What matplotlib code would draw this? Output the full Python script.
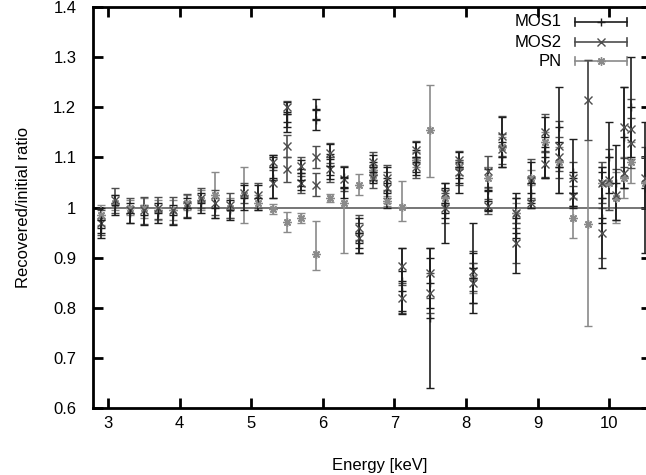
"""
plot.py: recovered/initial ratio versus energy for the three EPIC cameras.
"""

import matplotlib
matplotlib.use("Agg")
import matplotlib.pyplot as plt
from matplotlib.ticker import FormatStrFormatter

plt.rcParams['font.family'] = ['Liberation Sans', 'DejaVu Sans']

# MOS1 points: energy (keV), ratio, symmetric error
mos1_e = [2.9, 2.9, 3.1, 3.3, 3.5, 3.7, 3.9, 4.1, 4.3, 4.5, 4.7, 4.9, 5.1,
          5.3, 5.3, 5.5, 5.5, 5.7, 5.7, 5.9, 5.9, 6.1, 6.1, 6.3, 6.3,
          6.5, 6.5, 6.7, 6.7, 6.9, 6.9, 7.1, 7.1, 7.3, 7.3, 7.5, 7.5,
          7.7, 7.7, 7.9, 7.9, 8.1, 8.1, 8.3, 8.3, 8.5, 8.5, 8.7, 8.7,
          8.9, 8.9, 9.1, 9.1, 9.3, 9.3, 9.5, 9.5, 9.9, 9.9,
          10.0, 10.1, 10.2, 10.3, 10.5]
mos1_v = [0.96, 0.975, 1.005, 0.99, 0.985, 0.99, 0.985, 1.0, 1.01, 1.0, 0.995, 1.02, 1.02,
          1.08, 1.06, 1.186, 1.17, 1.069, 1.056, 1.196, 1.174, 1.096, 1.082, 1.061, 1.04,
          0.95, 0.93, 1.08, 1.07, 1.05, 1.03, 0.853, 0.833, 1.10, 1.09, 0.78, 0.85,
          0.99, 1.01, 1.08, 1.06, 0.88, 0.86, 1.036, 1.013, 1.13, 1.10, 0.95, 0.98,
          1.05, 1.03, 1.12, 1.10, 1.16, 1.08, 1.07, 1.03, 0.98, 1.02,
          1.10, 1.05, 1.14, 1.20, 1.04]
mos1_err = [0.02, 0.025, 0.02, 0.02, 0.02, 0.02, 0.02, 0.02, 0.02, 0.02, 0.02, 0.025, 0.025,
            0.025, 0.04, 0.025, 0.02, 0.025, 0.02, 0.02, 0.02, 0.03, 0.025, 0.02, 0.02,
            0.03, 0.02, 0.025, 0.02, 0.03, 0.03, 0.066, 0.04, 0.03, 0.025, 0.14, 0.05,
            0.06, 0.03, 0.03, 0.03, 0.09, 0.05, 0.04, 0.02, 0.05, 0.02, 0.08, 0.04,
            0.04, 0.03, 0.06, 0.04, 0.08, 0.05, 0.066, 0.03, 0.10, 0.05,
            0.07, 0.075, 0.10, 0.10, 0.13]

# MOS2 points
mos2_e = [2.9, 3.1, 3.3, 3.5, 3.7, 3.9, 4.1, 4.3, 4.5, 4.7, 4.9, 5.1,
          5.3, 5.3, 5.5, 5.5, 5.5, 5.7, 5.7, 5.9, 5.9, 6.1, 6.1, 6.3,
          6.5, 6.5, 6.7, 6.7, 6.9, 6.9, 7.1, 7.1, 7.3, 7.3, 7.5, 7.5,
          7.7, 7.7, 7.9, 7.9, 8.1, 8.1, 8.3, 8.3, 8.5, 8.5, 8.7, 8.7,
          8.9, 8.9, 9.1, 9.1, 9.3, 9.3, 9.5, 9.5, 9.7, 9.9, 9.9,
          10.0, 10.1, 10.2, 10.2, 10.3, 10.3, 10.5]
mos2_v = [0.97, 1.015, 0.995, 0.995, 1.0, 0.995, 1.005, 1.02, 1.01, 1.005, 1.03, 1.025,
          1.05, 1.09, 1.20, 1.122, 1.076, 1.082, 1.049, 1.10, 1.046, 1.109, 1.076, 1.058,
          0.96, 0.94, 1.09, 1.06, 1.06, 1.04, 0.883, 0.82, 1.115, 1.08, 0.87, 0.83,
          1.03, 1.0, 1.095, 1.07, 0.873, 0.85, 1.072, 1.003, 1.143, 1.116, 0.99, 0.93,
          1.056, 1.009, 1.15, 1.086, 1.122, 1.10, 1.06, 1.023, 1.214, 0.95, 1.05,
          1.056, 1.026, 1.16, 1.069, 1.156, 1.129, 1.06]
mos2_err = [0.025, 0.025, 0.025, 0.027, 0.022, 0.027, 0.023, 0.02, 0.025, 0.025, 0.02, 0.025,
            0.03, 0.015, 0.013, 0.022, 0.024, 0.018, 0.02, 0.022, 0.023, 0.02, 0.025, 0.024,
            0.025, 0.03, 0.02, 0.02, 0.024, 0.03, 0.037, 0.03, 0.017, 0.02, 0.05, 0.04,
            0.02, 0.03, 0.018, 0.025, 0.04, 0.04, 0.03, 0.015, 0.04, 0.03, 0.03, 0.04,
            0.04, 0.01, 0.037, 0.025, 0.05, 0.04, 0.03, 0.02, 0.08, 0.05, 0.04,
            0.06, 0.05, 0.08, 0.03, 0.06, 0.05, 0.06]

# PN points (asymmetric errors)
pn_e = [2.9, 3.1, 3.3, 3.5, 3.7, 3.9, 4.1, 4.3, 4.5, 4.7, 4.9, 5.1,
        5.3, 5.5, 5.7, 5.9, 6.1, 6.3, 6.5, 6.7, 6.7, 6.9, 7.1, 7.3, 7.5,
        7.7, 7.9, 8.1, 8.3, 8.5, 8.7, 8.9, 9.1, 9.3, 9.5, 9.7, 9.9,
        10.0, 10.1, 10.2, 10.3, 10.5]
pn_v = [0.985, 1.01, 1.0, 1.0, 0.995, 0.995, 1.01, 1.015, 1.025, 1.0, 1.025, 1.01,
        0.998, 0.971, 0.979, 0.908, 1.019, 1.01, 1.046, 1.065, 1.075, 1.013, 1.001, 1.095, 1.154,
        1.02, 1.08, 0.86, 1.06, 1.12, 0.99, 1.06, 1.13, 1.09, 0.98, 0.968, 1.05,
        1.05, 1.02, 1.06, 1.09, 1.05]
pn_lo = [0.02, 0.015, 0.015, 0.02, 0.02, 0.02, 0.015, 0.02, 0.045, 0.02, 0.055, 0.015,
         0.01, 0.02, 0.01, 0.032, 0.008, 0.10, 0.021, 0.01, 0.01, 0.01, 0.028, 0.015, 0.092,
         0.015, 0.015, 0.03, 0.02, 0.02, 0.02, 0.015, 0.02, 0.06, 0.04, 0.205, 0.03,
         0.05, 0.05, 0.04, 0.04, 0.05]
pn_hi = [0.02, 0.015, 0.015, 0.02, 0.02, 0.02, 0.015, 0.02, 0.045, 0.02, 0.055, 0.015,
         0.01, 0.02, 0.01, 0.065, 0.008, 0.03, 0.021, 0.01, 0.01, 0.01, 0.052, 0.015, 0.09,
         0.015, 0.015, 0.03, 0.02, 0.02, 0.02, 0.015, 0.02, 0.03, 0.04, 0.327, 0.03,
         0.05, 0.05, 0.04, 0.04, 0.05]

col_mos1 = "#1e1e1e"
col_mos2 = "#4e4e4e"
col_pn = "#8a8a8a"
asterisk = (8, 2, 0)

fig = plt.figure(figsize=(6.46, 4.75), dpi=100)
# the right border of the frame falls just outside the picture
ax = fig.add_axes([0.144, 0.141, 0.864, 0.844])

# Reference line at ratio = 1
ax.axhline(1.0, color="#6a6a6a", lw=1.3, zorder=1)

eb_kw = dict(fmt="", linestyle="none", capsize=3, elinewidth=1.2, capthick=1.2,
             markersize=6, markeredgewidth=1.0, zorder=3)
ax.errorbar(pn_e, pn_v, yerr=[pn_lo, pn_hi], marker=asterisk, color=col_pn, **eb_kw)
ax.errorbar(mos2_e, mos2_v, yerr=mos2_err, marker="x", color=col_mos2, **eb_kw)
ax.errorbar(mos1_e, mos1_v, yerr=mos1_err, marker="+", color=col_mos1, **eb_kw)

# Axis ranges and gnuplot-like ticks
ax.set_xlim(2.79, 10.585)
ax.set_ylim(0.6, 1.4)
ax.set_xticks(range(3, 11))
ax.set_yticks([0.6, 0.7, 0.8, 0.9, 1.0, 1.1, 1.2, 1.3, 1.4])
ax.yaxis.set_major_formatter(FormatStrFormatter("%g"))
ax.tick_params(direction="in", length=7, width=2, labelsize=12,
               top=True, right=True)
ax.tick_params(axis="x", pad=6)
ax.tick_params(axis="y", pad=12)
for s in ax.spines.values():
    s.set_linewidth(2)

ax.set_xlabel("Energy [keV]", fontsize=12)
ax.xaxis.set_label_coords(0.513, -0.125)
ax.set_ylabel("Recovered/initial ratio", fontsize=12, labelpad=16)

# Gnuplot-style key drawn in axes coordinates
key = [("MOS1", "+", col_mos1), ("MOS2", "x", col_mos2), ("PN", asterisk, col_pn)]
key_y = [0.963, 0.913, 0.865]
kx0, kx1, kxm, ktx = 0.864, 0.957, 0.911, 0.84
for (name, mk, c), yk in zip(key, key_y):
    ax.text(ktx, yk, name, transform=ax.transAxes, ha="right", va="center", fontsize=12)
    ax.plot([kx0, kx1], [yk, yk], color=c, lw=1.2, transform=ax.transAxes)
    ax.plot([kx0, kx0], [yk - 0.01, yk + 0.01], color=c, lw=1.2, transform=ax.transAxes)
    ax.plot([kx1, kx1], [yk - 0.01, yk + 0.01], color=c, lw=1.2, transform=ax.transAxes)
    ax.plot([kxm], [yk], marker=mk, color=c, markersize=6, transform=ax.transAxes)

fig.savefig("out.png", dpi=100)
